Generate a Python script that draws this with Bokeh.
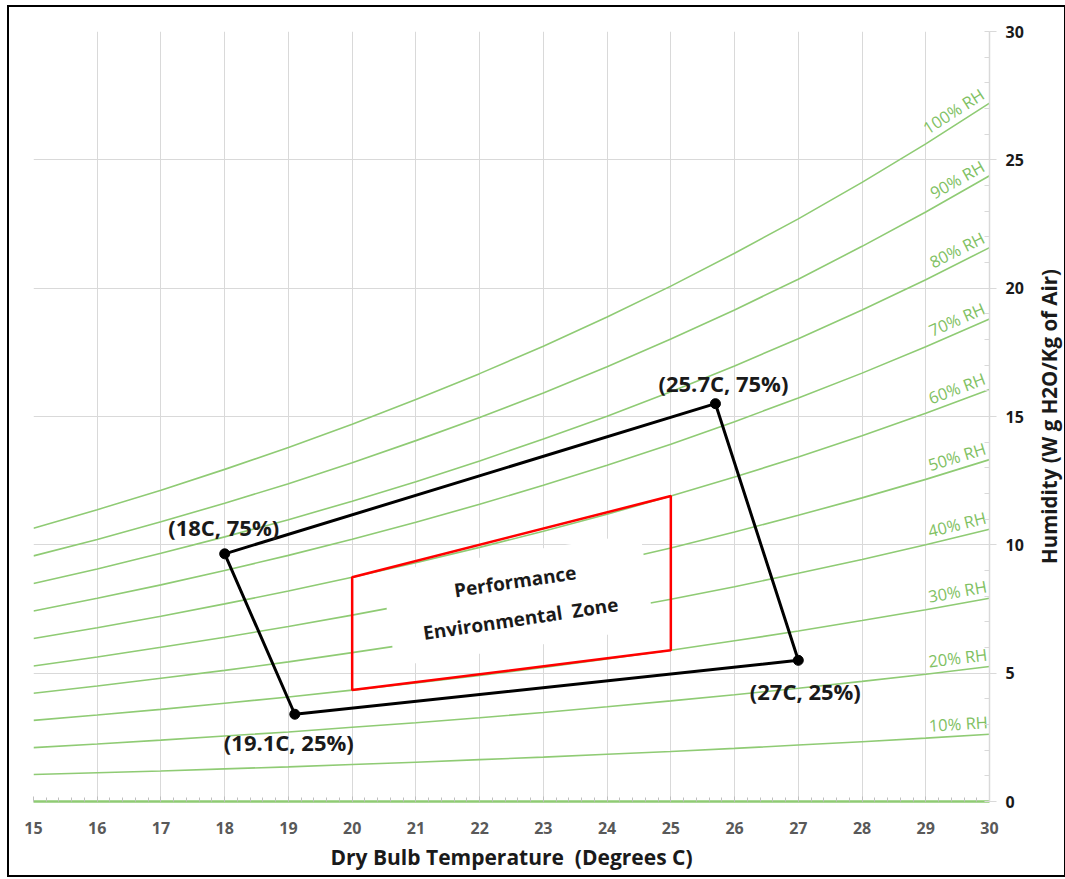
import math
from bokeh.plotting import figure
from bokeh.layouts import row
from bokeh.models import ColumnDataSource, SingleIntervalTicker, Range1d, FixedTicker
from bokeh.core.properties import value
from bokeh.embed import file_html
from bokeh.resources import INLINE

# ---------------- data ----------------
temps = [15, 16, 17, 18, 19, 20, 21, 22, 23, 24, 25, 26, 27, 28, 29, 30]

rh10 = [1.05, 1.12, 1.19, 1.27, 1.35, 1.44, 1.53, 1.63, 1.73, 1.84, 1.95, 2.07, 2.20, 2.33, 2.47, 2.62]
rh20 = [2.10, 2.24, 2.39, 2.55, 2.71, 2.89, 3.07, 3.26, 3.47, 3.69, 3.92, 4.16, 4.41, 4.68, 4.96, 5.26]
rh30 = [3.16, 3.37, 3.59, 3.83, 4.07, 4.34, 4.62, 4.91, 5.22, 5.55, 5.89, 6.26, 6.64, 7.05, 7.47, 7.92]
rh40 = [4.22, 4.50, 4.80, 5.11, 5.44, 5.80, 6.17, 6.56, 6.98, 7.42, 7.88, 8.37, 8.89, 9.43, 10.00, 10.61]
rh50 = [5.28, 5.63, 6.01, 6.40, 6.82, 7.26, 7.73, 8.23, 8.75, 9.30, 9.88, 10.50, 11.15, 11.83, 12.55, 13.32]
rh60 = [6.35, 6.77, 7.22, 7.70, 8.20, 8.74, 9.30, 9.90, 10.53, 11.19, 11.90, 12.64, 13.42, 14.25, 15.13, 16.05]
rh70 = [7.42, 7.92, 8.44, 9.00, 9.59, 10.22, 10.88, 11.58, 12.32, 13.10, 13.92, 14.80, 15.72, 16.69, 17.72, 18.80]
rh80 = [8.49, 9.06, 9.67, 10.31, 10.98, 11.70, 12.46, 13.27, 14.12, 15.01, 15.96, 16.97, 18.03, 19.15, 20.33, 21.58]
rh90 = [9.57, 10.21, 10.90, 11.62, 12.38, 13.20, 14.06, 14.96, 15.92, 16.94, 18.02, 19.15, 20.35, 21.63, 22.97, 24.38]
rh100 = [10.65, 11.37, 12.13, 12.94, 13.79, 14.70, 15.66, 16.67, 17.74, 18.88, 20.08, 21.36, 22.70, 24.12, 25.62, 27.21]

rh_names = ["10% RH", "20% RH", "30% RH", "40% RH", "50% RH",
            "60% RH", "70% RH", "80% RH", "90% RH", "100% RH"]
rh_series = [rh10, rh20, rh30, rh40, rh50, rh60, rh70, rh80, rh90, rh100]

# allowable envelope (black) corners
env_temp = [18.0, 25.7, 27.0, 19.1]
env_hum = [9.65, 15.5, 5.5, 3.4]
env_text = ["(18C, 75%)", "(25.7C, 75%)", "(27C, 25%)", "(19.1C, 25%)"]

# performance zone (red) corners
perf_temp = [20.0, 25.0, 25.0, 20.0]
perf_hum = [8.74, 11.90, 5.89, 4.34]

x_range_vals = (15, 30)
y_range_vals = (0, 30)

x_title = "Dry Bulb Temperature \u00a0(Degrees C)"
y_title = "Humidity (W g H2O/Kg of Air)"
zone_title = "Performance\nEnvironmental \u00a0Zone"

# ---------------- styling / layout ----------------
OFF_X, OFF_Y = 9, 7
W, H = 1021, 868          # main chart
W2 = 34                   # narrow strip that carries the y-axis title
BL, BT = 33 - OFF_X, 31 - OFF_Y
FRAME_W, FRAME_H = 956, 770
BR = W - BL - FRAME_W
BB = H - BT - FRAME_H

GREEN = "#8fcb74"
GREEN_TXT = "#7fc163"
GRID = "#d9d9d9"
FONT = "Open Sans"

p = figure(width=W, height=H, output_backend="svg", toolbar_location=None,
           x_range=Range1d(*x_range_vals), y_range=Range1d(*y_range_vals),
           y_axis_location="right", min_border_left=BL, min_border_right=BR,
           min_border_top=BT, min_border_bottom=BB)
p.outline_line_color = None
p.background_fill_color = "white"
p.border_fill_color = "white"

# grids
p.xgrid.ticker = SingleIntervalTicker(interval=1)
p.ygrid.ticker = SingleIntervalTicker(interval=5)
p.grid.grid_line_color = GRID
p.grid.grid_line_width = 1

# x axis
xax = p.xaxis[0]
xax.ticker = SingleIntervalTicker(interval=1, num_minor_ticks=5)
xax.axis_line_color = GREEN
xax.axis_line_width = 2.5
xax.major_tick_in = 5
xax.major_tick_out = 0
xax.minor_tick_in = 4
xax.minor_tick_out = 0
xax.major_tick_line_color = "#bfbfbf"
xax.minor_tick_line_color = "#bfbfbf"
xax.major_label_text_font = FONT
xax.major_label_text_font_style = "bold"
xax.major_label_text_font_size = "16px"
xax.major_label_text_color = "#595959"
xax.major_label_standoff = 20
xax.axis_label = x_title
xax.axis_label_text_font = FONT
xax.axis_label_text_font_style = "bold"
xax.axis_label_text_font_size = "21px"
xax.axis_label_text_color = "#1a1a1a"
xax.axis_label_standoff = 6

# y axis (right)
yax = p.yaxis[0]
yax.ticker = SingleIntervalTicker(interval=5, num_minor_ticks=5)
yax.axis_line_color = GRID
yax.axis_line_width = 1.5
yax.major_tick_in = 0
yax.major_tick_out = 7
yax.minor_tick_in = 5
yax.minor_tick_out = 0
yax.major_tick_line_color = GRID
yax.minor_tick_line_color = GRID
yax.major_label_text_font = FONT
yax.major_label_text_font_style = "bold"
yax.major_label_text_font_size = "16px"
yax.major_label_text_color = "#1a1a1a"
yax.major_label_standoff = 9

# RH curves
for s in rh_series:
    p.line(temps, s, line_color=GREEN, line_width=1.6)

# RH labels at right end, rotated with the curve
ppu_x = FRAME_W / (x_range_vals[1] - x_range_vals[0])
ppu_y = FRAME_H / (y_range_vals[1] - y_range_vals[0])
lab_x, lab_y, lab_a = [], [], []
for s in rh_series:
    dy = (s[-1] - s[-2]) * ppu_y
    dx = (temps[-1] - temps[-2]) * ppu_x
    lab_x.append(temps[-1])
    lab_y.append(s[-1])
    lab_a.append(math.atan2(dy, dx))
p.text(x=lab_x, y=lab_y, text=rh_names, angle=lab_a,
       text_align="right", text_baseline="bottom", x_offset=-1, y_offset=-1,
       text_color=GREEN_TXT, text_font=value(FONT), text_font_size="16.5px")

# white label box for the performance zone
ZONE_X, ZONE_Y, ZONE_ANGLE = 22.6, 7.85, 0.148
p.rect(x=[ZONE_X], y=[ZONE_Y], width=[262], height=[95], angle=ZONE_ANGLE,
       width_units="screen", height_units="screen",
       fill_color="white", line_color=None)

# red performance zone
p.patch(perf_temp, perf_hum, fill_color=None, line_color="#ff0000", line_width=2.5)

# black allowable envelope
p.patch(env_temp, env_hum, fill_color=None, line_color="black", line_width=3,
        line_join="round")
p.scatter(env_temp, env_hum, size=10, color="black")

p.text(x=[ZONE_X], y=[ZONE_Y], text=[zone_title],
       angle=ZONE_ANGLE, text_align="center", text_baseline="middle",
       text_font=value(FONT), text_font_style="bold", text_font_size="19px",
       text_color="#1a1a1a", text_line_height=1.45)

# corner labels
lab_dx = [-1, 8, 7, -6]
lab_dy = [-27, -21, 31, 28]
src = ColumnDataSource(dict(x=env_temp, y=env_hum, t=env_text, dx=lab_dx, dy=lab_dy))
p.text(x="x", y="y", text="t", x_offset="dx", y_offset="dy", source=src,
       text_align="center", text_baseline="middle",
       text_font=value(FONT), text_font_style="bold", text_font_size="22px",
       text_color="#1a1a1a")

# narrow strip: its left axis carries the y title (reads bottom-to-top, centred)
p2 = figure(width=W2, height=H, output_backend="svg", toolbar_location=None,
            x_range=p.x_range, y_range=p.y_range, x_axis_location=None,
            y_axis_location="left", min_border_left=32, min_border_right=0,
            min_border_top=BT, min_border_bottom=BB)
p2.outline_line_color = None
p2.grid.visible = False
p2.background_fill_color = "white"
p2.border_fill_color = "white"
ax2 = p2.yaxis[0]
ax2.ticker = FixedTicker(ticks=[])
ax2.axis_line_color = None
ax2.major_tick_line_color = None
ax2.minor_tick_line_color = None
ax2.major_tick_in = 0
ax2.major_tick_out = 0
ax2.minor_tick_in = 0
ax2.minor_tick_out = 0
ax2.major_label_standoff = 0
ax2.axis_label = y_title
ax2.axis_label_standoff = 0
ax2.axis_label_text_font = FONT
ax2.axis_label_text_font_style = "bold"
ax2.axis_label_text_font_size = "20.5px"
ax2.axis_label_text_color = "#1a1a1a"

layout = row(p, p2, spacing=0)
layout.styles = {"outline": "2px solid black",
                 "margin-left": f"{OFF_X}px", "margin-top": f"{OFF_Y}px"}

open("out.html", "w").write(file_html(layout, INLINE))
